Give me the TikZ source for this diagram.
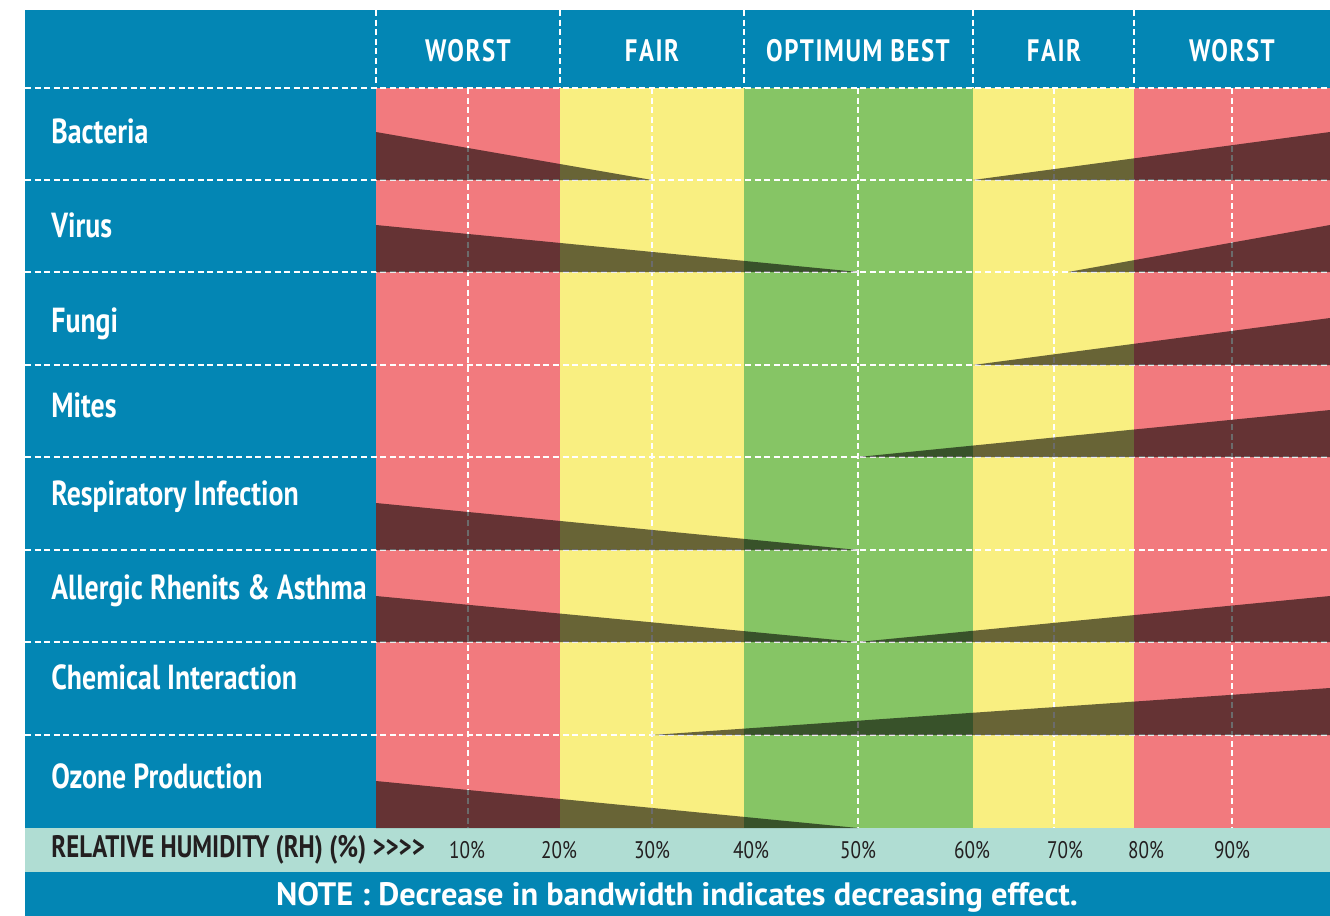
\documentclass[tikz,border=0pt]{standalone}
\usepackage{fontspec}
\setmainfont{PT Sans}
\newfontfamily\condfont{PT Sans}[FakeStretch=0.8]
\newfontfamily\headfont{PT Sans}[FakeStretch=0.8, LetterSpace=5]
\usetikzlibrary{positioning}

\definecolor{chartblue}{HTML}{0386B4}
\definecolor{worstred}{HTML}{F27A7E}
\definecolor{fairyellow}{HTML}{F9EF81}
\definecolor{bestgreen}{HTML}{86C565}
\definecolor{axisteal}{HTML}{B0DDD3}
\definecolor{axisink}{HTML}{231F20}

\begin{document}
\begin{tikzpicture}[x=0.5pt, y=-0.5pt,
	gridline/.style={white, line width=0.9pt, dash pattern=on 3pt off 1.8pt},
	wedge/.style={black, opacity=0.58},
	headlabel/.style={anchor=base, inner sep=0, text=white, font=\headfont\bfseries\fontsize{15.5}{18}\selectfont},
	rowlabel/.style={anchor=base west, inner sep=0, text=white, font=\condfont\bfseries\fontsize{17.4}{20}\selectfont},
	ticklabel/.style={anchor=base, inner sep=0, text=axisink, font=\condfont\fontsize{12}{14}\selectfont},
	notelabel/.style={anchor=base, inner sep=0, text=white, font=\bfseries\fontsize{16.2}{19}\selectfont}]
	
	\useasboundingbox (0,0) rectangle (1330,916);
	
	% bands
	\fill[chartblue] (25,10) rectangle (1330,828);
	\fill[worstred] (376,88) rectangle (560,828);
	\fill[fairyellow] (560,88) rectangle (744,828);
	\fill[bestgreen] (744,88) rectangle (973,828);
	\fill[fairyellow] (973,88) rectangle (1134,828);
	\fill[worstred] (1134,88) rectangle (1330,828);
	\fill[axisteal] (25,828) rectangle (1330,872);
	\fill[chartblue] (25,872) rectangle (1330,916);
	
	% dashed grid
	\foreach \x in {376, 560, 744, 973, 1134}
		\draw[gridline] (\x,10) -- (\x,88);
	\foreach \x in {468, 652, 858, 1054, 1232}
		\draw[gridline] (\x,88) -- (\x,828);
	\foreach \y in {88, 180, 272, 365, 457, 550, 642, 735}
		\draw[gridline] (25,\y) -- (1330,\y);
	
	% effect wedges
	\fill[wedge] (376,132) -- (652,180) -- (376,180) -- cycle;
	\fill[wedge] (973,180) -- (1330,132) -- (1330,180) -- cycle;
	\fill[wedge] (376,225) -- (858,272) -- (376,272) -- cycle;
	\fill[wedge] (1068,272) -- (1330,225) -- (1330,272) -- cycle;
	\fill[wedge] (973,365) -- (1330,318) -- (1330,365) -- cycle;
	\fill[wedge] (858,457) -- (1330,410) -- (1330,457) -- cycle;
	\fill[wedge] (376,503) -- (858,550) -- (376,550) -- cycle;
	\fill[wedge] (376,596) -- (858,642) -- (376,642) -- cycle;
	\fill[wedge] (858,642) -- (1330,596) -- (1330,642) -- cycle;
	\fill[wedge] (652,735) -- (1330,688) -- (1330,735) -- cycle;
	\fill[wedge] (376,781) -- (858,828) -- (376,828) -- cycle;
	
	% header
	\node[headlabel] (worstlow) at (468,61) {WORST};
	\node[headlabel] (fairlow) at (652,61) {FAIR};
	\node[headlabel] (optimum) at (858,61) {OPTIMUM BEST};
	\node[headlabel] (fairhigh) at (1054,61) {FAIR};
	\node[headlabel] (worsthigh) at (1232,61) {WORST};
	
	% rows
	\node[rowlabel] (bacteria) at (51,143) {Bacteria};
	\node[rowlabel] (virus) at (51,237) {Virus};
	\node[rowlabel] (fungi) at (51,332) {Fungi};
	\node[rowlabel] (mites) at (51,417) {Mites};
	\node[rowlabel] (respiratory) at (51,505) {Respiratory Infection};
	\node[rowlabel] (allergic) at (51,599) {Allergic Rhenits \& Asthma};
	\node[rowlabel] (chemical) at (51,689) {Chemical Interaction};
	\node[rowlabel] (ozone) at (51,788) {Ozone Production};
	
	% humidity axis
	\node[ticklabel, anchor=base west, font=\condfont\bfseries\fontsize{15.5}{18}\selectfont] (rhtitle) at (51,857) {RELATIVE HUMIDITY (RH) (\%) >>>>};
	\node[ticklabel] (rh10) at (467,858) {10\%};
	\node[ticklabel] (rh20) at (559,858) {20\%};
	\node[ticklabel] (rh30) at (652,858) {30\%};
	\node[ticklabel] (rh40) at (751,858) {40\%};
	\node[ticklabel] (rh50) at (858,858) {50\%};
	\node[ticklabel] (rh60) at (972,858) {60\%};
	\node[ticklabel] (rh70) at (1065,858) {70\%};
	\node[ticklabel] (rh80) at (1146,858) {80\%};
	\node[ticklabel] (rh90) at (1232,858) {90\%};
	
	\node[notelabel] (note) at (677,905) {NOTE : Decrease in bandwidth indicates decreasing effect.};
	
\end{tikzpicture}
\end{document}
